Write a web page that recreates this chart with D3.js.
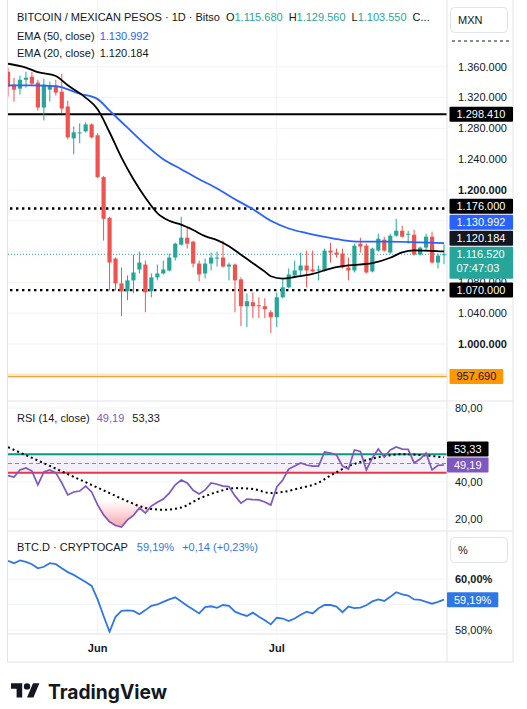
<!DOCTYPE html>
<html>
<head>
<meta charset="utf-8">
<script src="https://cdn.jsdelivr.net/npm/d3@7"></script>
<style>
  body { margin: 0; background: #fff; }
  svg { display: block; font-family: "Liberation Sans", Arial, sans-serif; }
</style>
</head>
<body>
<div id="chart"></div>
<script>
const W = 527
const H = 709

// ---- data (daily, starting 17 May) ----
const firstDay = Date.UTC(2024, 4, 17)

const open = [1353600, 1336800, 1331600, 1343200, 1347100, 1339400, 1307100, 1330300, 1335500, 1327700,
  1308400, 1267100, 1273600, 1276100, 1285200, 1271000, 1216800, 1163900, 1111000, 1078700,
  1068400, 1082600, 1096800, 1103200, 1068400, 1086500, 1091600, 1095500, 1112300, 1129000,
  1138100, 1132900, 1104500, 1091600, 1104500, 1111000, 1112300, 1100600, 1103200, 1083900,
  1049000, 1054200, 1050300, 1049000, 1041300, 1034800, 1060700, 1073600, 1089000, 1095500,
  1101900, 1096800, 1095500, 1095500, 1121300, 1118700, 1117400, 1099400, 1095500, 1130300,
  1127700, 1094200, 1121300, 1135500, 1118700, 1140600, 1147100, 1141900, 1141900, 1116100,
  1125200, 1139400, 1105800, 1115680]
const high = [1358700, 1345800, 1348400, 1353600, 1353600, 1343200, 1344500, 1340700, 1343200, 1351000,
  1316100, 1282600, 1286500, 1287800, 1286500, 1273600, 1218100, 1165200, 1112300, 1099400,
  1089000, 1116100, 1120000, 1108400, 1091600, 1103200, 1108400, 1117400, 1131600, 1165200,
  1151000, 1134200, 1108400, 1111000, 1118700, 1120000, 1134200, 1105800, 1104500, 1086500,
  1065800, 1067100, 1060700, 1059400, 1043900, 1067100, 1083900, 1098100, 1108400, 1118700,
  1121300, 1121300, 1101900, 1123900, 1131600, 1123900, 1123900, 1112300, 1130300, 1138100,
  1130300, 1125200, 1143200, 1139400, 1143200, 1162600, 1153600, 1147100, 1148400, 1126500,
  1143200, 1145800, 1117400, 1129560]
const low = [1321300, 1314800, 1323900, 1332900, 1335500, 1303200, 1290300, 1314800, 1322600, 1299400,
  1265800, 1246500, 1260700, 1274800, 1267100, 1215500, 1134200, 1069700, 1069700, 1036100,
  1056800, 1065800, 1091600, 1041300, 1060700, 1082600, 1090300, 1094200, 1108400, 1127700,
  1123900, 1099400, 1081300, 1085200, 1095500, 1100600, 1099400, 1082600, 1041300, 1023200,
  1021900, 1033600, 1033600, 1033600, 1014200, 1021900, 1059400, 1072300, 1086500, 1089000,
  1073600, 1092900, 1082600, 1094200, 1105800, 1112300, 1098100, 1082600, 1092900, 1118700,
  1091600, 1092900, 1120000, 1120000, 1117400, 1139400, 1138100, 1130300, 1114800, 1114800,
  1121300, 1104500, 1098100, 1103550]
const close = [1334200, 1330300, 1343200, 1345800, 1338100, 1307100, 1336800, 1335500, 1326500, 1305800,
  1268400, 1274800, 1274800, 1285200, 1268400, 1216800, 1162600, 1105800, 1078700, 1068400,
  1082600, 1092900, 1105800, 1067100, 1086500, 1091600, 1096800, 1112300, 1130300, 1138100,
  1130300, 1104500, 1090300, 1104500, 1112300, 1112300, 1100600, 1103200, 1082600, 1049000,
  1055500, 1049000, 1049000, 1045200, 1034800, 1060700, 1073600, 1090300, 1095500, 1101900,
  1095500, 1094200, 1096800, 1121300, 1118700, 1116100, 1099400, 1095500, 1127700, 1126500,
  1092900, 1123900, 1136800, 1121300, 1140600, 1147100, 1139400, 1143200, 1116100, 1125200,
  1139400, 1105800, 1114800, 1116520]

// EMA lines: day index (0 = 17 May) and value
const ema50Day = [0, 4, 8, 12, 15, 17, 20, 23, 26, 29, 32, 35, 38, 41, 44, 47, 50, 53, 56, 59, 64, 69, 73]
const ema50 = [1336000, 1336000, 1335000, 1325000, 1318000, 1303000, 1281000, 1259000, 1240000, 1227000,
  1214000, 1202000, 1188000, 1175000, 1160000, 1150000, 1144000, 1139000, 1135000, 1133000, 1133000, 1132000, 1130992]
const ema20Day = [0, 3, 5, 8, 10, 13, 15, 17, 19, 21, 23, 25, 27, 29, 31, 33, 35, 37, 39, 41, 43, 44, 46, 48,
  51, 54, 57, 61, 64, 66, 68, 71, 73]
const ema20 = [1364000, 1359000, 1353000, 1348000, 1336000, 1320000, 1305000, 1275000, 1242000, 1214000,
  1190000, 1170000, 1160000, 1155000, 1148000, 1140000, 1135000, 1127000, 1116000, 1105000, 1094000,
  1088000, 1085000, 1087000, 1091000, 1098000, 1102000, 1105000, 1112000, 1119000, 1121500, 1121000, 1120184]

// horizontal levels
const levelsSolid = [1298410]
const levelsDotted = [1176000, 1070000]
const levelOrange = 957690
const countdown = '07:47:03'

// RSI
const rsi = [43.5, 42.7, 46.5, 47.6, 45.9, 38.4, 45.4, 46.5, 44.9, 39.5,
  33.0, 34.6, 35.1, 37.8, 34.6, 27.6, 22.2, 18.5, 16.5, 15.7,
  19.5, 22.0, 26.0, 23.2, 27.0, 29.0, 30.8, 34.0, 38.5, 41.1,
  39.5, 35.5, 33.5, 35.7, 39.5, 38.8, 37.8, 37.5, 32.5, 28.6,
  30.8, 30.5, 30.3, 29.2, 27.6, 37.3, 41.1, 47.0, 48.6, 50.3,
  49.2, 48.6, 48.6, 56.2, 55.7, 54.6, 48.6, 47.0, 57.3, 56.5,
  46.5, 53.0, 57.8, 53.5, 57.3, 58.9, 57.8, 57.6, 50.3, 52.4,
  55.7, 46.5, 49.0, 49.19]
const rsiMaDay = [0, 5, 11, 17, 20, 23, 26, 29, 32, 35, 38, 41, 44, 46, 49, 52, 54, 57, 60, 63, 66, 69, 73]
const rsiMa = [58.8, 51.6, 42.8, 34.0, 29.6, 26.0, 25.0, 26.2, 31.0, 34.6, 36.7, 36.2, 34.0, 34.6, 36.8,
  39.6, 43.5, 48.5, 51.8, 54.0, 55.0, 54.6, 53.33]
const rsiBands = [55, 50, 45]
const rsiOversold = 30

// BTC dominance
const dom = [60.71, 60.62, 60.73, 60.67, 60.58, 60.42, 60.48, 60.62, 60.58, 60.42,
  60.27, 60.16, 60.02, 59.88, 59.73, 59.2, 58.55, 57.93, 58.52, 58.75,
  58.77, 58.75, 58.62, 58.78, 58.95, 59.0, 59.1, 59.2, 59.28, 59.12,
  58.95, 58.8, 58.65, 58.9, 58.93, 58.87, 58.98, 58.95, 58.72, 58.62,
  58.55, 58.68, 58.52, 58.38, 58.22, 58.48, 58.45, 58.35, 58.45, 58.6,
  58.72, 58.65, 58.85, 58.98, 58.98, 58.92, 58.7, 58.92, 58.86, 58.88,
  58.97, 59.12, 59.2, 59.14, 59.3, 59.48, 59.4, 59.35, 59.2, 59.18,
  59.1, 59.03, 59.1, 59.19]

// axis ticks
const priceTicks = [1360000, 1320000, 1280000, 1240000, 1200000, 1160000, 1120000, 1080000, 1040000, 1000000, 960000]
const priceBold = [1200000, 1000000]
const rsiTicks = [80, 60, 40, 20]
const domTicks = [60, 59, 58]
const domBold = [60]
const monthTicks = [Date.UTC(2024, 5, 1), Date.UTC(2024, 6, 1)]
const monthLabels = ['Jun', 'Jul']

// ---- layout ----
const plotL = 8, plotR = 447, frameR = 513
const mainTop = 0, mainBot = 401, rsiBot = 531, domBot = 634, timeBot = 662

const UP = '#26a69a'
const DOWN = '#ef5350'
const INK = '#131722'
const GRID = '#f0f3fa'
const LINE = '#e0e3eb'

const loc = d3.formatLocale({ decimal: ',', thousands: '.', grouping: [3], currency: ['', ''] })
const fmtP = loc.format(',.0f')
const fmt2 = loc.format(',.2f')

const day = i => d3.utcDay.offset(new Date(firstDay), i)
const candles = open.map((o, i) => ({ t: day(i), o, h: high[i], l: low[i], c: close[i] }))
const last = candles[candles.length - 1]

const x = d3.scaleUtc().domain([day(1), day(73)]).range([14, 444])
const yP = d3.scaleLinear().domain([1000000, 1360000]).range([344, 66.8])
const yR = d3.scaleLinear().domain([20, 80]).range([519, 408])
const yD = d3.scaleLinear().domain([58, 60]).range([630, 579])

const svg = d3.select('#chart').append('svg').attr('width', W).attr('height', H)
const defs = svg.append('defs')
const clip = (id, y0, y1) => defs.append('clipPath').attr('id', id)
  .append('rect').attr('x', plotL).attr('y', y0).attr('width', plotR - plotL).attr('height', y1 - y0)
clip('cMain', mainTop, mainBot)
clip('cRsi', mainBot, rsiBot)
clip('cDom', rsiBot, domBot)
clip('cHead', 0, 60)

// ---- grid ----
const grid = svg.append('g')
grid.selectAll('.vg').data(monthTicks).enter().append('line')
  .attr('x1', d => x(d)).attr('x2', d => x(d)).attr('y1', 0).attr('y2', domBot)
  .attr('stroke', GRID)
grid.selectAll('.hp').data(priceTicks).enter().append('line')
  .attr('x1', plotL).attr('x2', plotR).attr('y1', d => yP(d)).attr('y2', d => yP(d)).attr('stroke', GRID)
grid.selectAll('.hr').data(rsiTicks).enter().append('line')
  .attr('x1', plotL).attr('x2', plotR).attr('y1', d => yR(d)).attr('y2', d => yR(d)).attr('stroke', GRID)
grid.selectAll('.hd').data(domTicks).enter().append('line')
  .attr('x1', plotL).attr('x2', plotR).attr('y1', d => yD(d)).attr('y2', d => yD(d)).attr('stroke', GRID)

// ---- main pane ----
const main = svg.append('g').attr('clip-path', 'url(#cMain)')

main.append('line').attr('x1', plotL).attr('x2', plotR)
  .attr('y1', yP(levelOrange) - 1.5).attr('y2', yP(levelOrange) - 1.5)
  .attr('stroke', 'rgba(255,200,80,0.35)').attr('stroke-width', 3)
main.append('line').attr('x1', plotL).attr('x2', plotR)
  .attr('y1', yP(levelOrange)).attr('y2', yP(levelOrange))
  .attr('stroke', '#f0a33a').attr('stroke-width', 1.3)

main.selectAll('.ls').data(levelsSolid).enter().append('line')
  .attr('x1', plotL).attr('x2', plotR).attr('y1', d => yP(d)).attr('y2', d => yP(d))
  .attr('stroke', '#000').attr('stroke-width', 2)
main.selectAll('.ld').data(levelsDotted).enter().append('line')
  .attr('x1', plotL + 2).attr('x2', plotR).attr('y1', d => yP(d)).attr('y2', d => yP(d))
  .attr('stroke', '#000').attr('stroke-width', 2.4).attr('stroke-dasharray', '2.4,3.6')

main.append('line').attr('x1', plotL).attr('x2', plotR)
  .attr('y1', yP(last.c)).attr('y2', yP(last.c))
  .attr('stroke', UP).attr('stroke-width', 1).attr('stroke-dasharray', '1,2')

const cg = main.selectAll('.candle').data(candles).enter().append('g')
cg.append('line')
  .attr('x1', d => x(d.t)).attr('x2', d => x(d.t))
  .attr('y1', d => yP(d.h)).attr('y2', d => yP(d.l))
  .attr('stroke', d => d.c >= d.o ? UP : DOWN).attr('stroke-width', 1)
cg.append('rect')
  .attr('x', d => x(d.t) - 2.1).attr('width', 4.2)
  .attr('y', d => yP(Math.max(d.o, d.c)))
  .attr('height', d => Math.max(1, Math.abs(yP(d.o) - yP(d.c))))
  .attr('fill', d => d.c >= d.o ? UP : DOWN)

const lineOf = (days, vals, ys) => d3.line()
  .x((d, i) => x(day(days[i]))).y(d => ys(d)).curve(d3.curveMonotoneX)(vals)
main.append('path').attr('d', lineOf(ema50Day, ema50, yP))
  .attr('fill', 'none').attr('stroke', '#2962ff').attr('stroke-width', 1.8)
main.append('path').attr('d', lineOf(ema20Day, ema20, yP))
  .attr('fill', 'none').attr('stroke', '#000').attr('stroke-width', 1.8)

// ---- RSI pane ----
const rp = svg.append('g').attr('clip-path', 'url(#cRsi)')
rp.append('rect').attr('x', plotL).attr('width', plotR - plotL)
  .attr('y', yR(rsiBands[0])).attr('height', yR(rsiBands[2]) - yR(rsiBands[0]))
  .attr('fill', 'rgba(126,87,194,0.09)')
rp.append('line').attr('x1', plotL).attr('x2', plotR).attr('y1', yR(rsiBands[1])).attr('y2', yR(rsiBands[1]))
  .attr('stroke', '#8a8d96').attr('stroke-dasharray', '4,3')
rp.append('line').attr('x1', plotL).attr('x2', plotR).attr('y1', yR(rsiBands[0])).attr('y2', yR(rsiBands[0]))
  .attr('stroke', '#089981').attr('stroke-width', 2)
rp.append('line').attr('x1', plotL).attr('x2', plotR).attr('y1', yR(rsiBands[2])).attr('y2', yR(rsiBands[2]))
  .attr('stroke', '#e8364a').attr('stroke-width', 2)

const osGrad = defs.append('linearGradient').attr('id', 'osGrad')
  .attr('gradientUnits', 'userSpaceOnUse').attr('x1', 0).attr('x2', 0)
  .attr('y1', yR(rsiOversold)).attr('y2', yR(15))
osGrad.append('stop').attr('offset', 0).attr('stop-color', 'rgba(242,54,69,0)')
osGrad.append('stop').attr('offset', 1).attr('stop-color', 'rgba(242,54,69,0.45)')
rp.append('path')
  .attr('d', d3.area().x((d, i) => x(day(i))).y0(yR(rsiOversold))
    .y1(d => yR(Math.min(d, rsiOversold)))(rsi))
  .attr('fill', 'url(#osGrad)')

rp.append('path').attr('d', lineOf(rsiMaDay, rsiMa, yR))
  .attr('fill', 'none').attr('stroke', '#000').attr('stroke-width', 2).attr('stroke-dasharray', '2,3')
rp.append('path').attr('d', d3.line().x((d, i) => x(day(i))).y(d => yR(d))(rsi))
  .attr('fill', 'none').attr('stroke', '#7e57c2').attr('stroke-width', 1.7)

// ---- dominance pane ----
const dp = svg.append('g').attr('clip-path', 'url(#cDom)')
dp.append('path').attr('d', d3.line().x((d, i) => x(day(i))).y(d => yD(d))(dom))
  .attr('fill', 'none').attr('stroke', '#3077e6').attr('stroke-width', 1.8)

// ---- separators / frame ----
const sep = svg.append('g').attr('stroke', LINE)
sep.append('line').attr('x1', plotL).attr('x2', frameR).attr('y1', mainBot).attr('y2', mainBot)
sep.append('line').attr('x1', plotL).attr('x2', frameR).attr('y1', rsiBot).attr('y2', rsiBot)
sep.append('line').attr('x1', plotL).attr('x2', plotR).attr('y1', domBot).attr('y2', domBot)
sep.append('line').attr('x1', plotR).attr('x2', plotR).attr('y1', 0).attr('y2', timeBot)
svg.append('rect').attr('x', plotL - 0.5).attr('y', -1).attr('width', frameR - plotL + 0.5).attr('height', timeBot + 1)
  .attr('fill', 'none').attr('stroke', LINE)

// ---- tags on the price scales (stacked away from each other) ----
function stackTags (tags) {
  tags.forEach(t => { t.top = t.y - t.off; t.bot = t.top + t.h })
  const a = tags.find(t => t.anchor)
  const above = tags.filter(t => !t.anchor && t.y <= a.y).sort((p, q) => q.y - p.y)
  let lim = a.top - 1
  above.forEach(t => { if (t.bot > lim) { t.top = lim - t.h; t.bot = lim } lim = t.top - 1 })
  const below = tags.filter(t => !t.anchor && t.y > a.y).sort((p, q) => p.y - q.y)
  lim = a.bot + 1
  below.forEach(t => { if (t.top < lim) { t.top = lim; t.bot = lim + t.h } lim = t.bot + 1 })
}
function drawTags (tags, x0, pad) {
  tags.forEach(t => {
    const g = svg.append('g')
    const r = g.append('rect').attr('y', t.top).attr('height', t.h).attr('fill', t.bg).attr('rx', 1)
    let w = 0
    t.lines.forEach((s, k) => {
      const tx = g.append('text').attr('x', x0 + pad).attr('y', t.top + 7.5 + k * 14).attr('dy', '0.35em')
        .attr('font-size', 11).attr('fill', t.fg || '#fff').text(s)
      w = Math.max(w, tx.node().getComputedTextLength())
    })
    r.attr('x', x0).attr('width', t.w || w + pad * 2)
  })
}
// a tick label whose centre sits under a tag is not shown
const hidden = (tags, y) => tags.some(t => y >= t.top + 1 && y <= t.bot - 1)

const priceTags = [
  { y: yP(last.c), off: 7.5, h: 32, bg: UP, lines: [fmtP(last.c), countdown], anchor: true, w: 63.5 },
  { y: yP(ema20[ema20.length - 1]), off: 7.5, h: 15, bg: INK, lines: [fmtP(ema20[ema20.length - 1])], w: 63.5 },
  { y: yP(ema50[ema50.length - 1]), off: 7.5, h: 15, bg: '#2962ff', lines: [fmtP(ema50[ema50.length - 1])], w: 63.5 },
  ...levelsSolid.concat(levelsDotted).map(v => ({ y: yP(v), off: 7.5, h: 15, bg: '#000', lines: [fmtP(v)], w: 63.5 })),
  { y: yP(levelOrange), off: 7.5, h: 15, bg: '#ff9800', fg: INK, lines: [fmtP(levelOrange)] }
]
stackTags(priceTags)

const rsiTags = [
  { y: yR(rsi[rsi.length - 1]), off: 7.5, h: 15, bg: '#7e57c2', lines: [fmt2(rsi[rsi.length - 1])], anchor: true },
  { y: yR(rsiMa[rsiMa.length - 1]), off: 7.5, h: 15, bg: '#000', lines: [fmt2(rsiMa[rsiMa.length - 1])] }
]
stackTags(rsiTags)

const domTags = [{ y: yD(dom[dom.length - 1]), off: 7.5, h: 15, bg: '#3077e6', lines: [fmt2(dom[dom.length - 1]) + '%'], anchor: true }]
stackTags(domTags)

// ---- axis labels ----
const ax = svg.append('g').attr('font-size', 11).attr('fill', INK)
ax.selectAll('.pt').data(priceTicks.filter(d => !hidden(priceTags, yP(d)))).enter().append('text')
  .attr('x', 458).attr('y', d => yP(d)).attr('dy', '0.35em')
  .attr('font-weight', d => priceBold.includes(d) ? 'bold' : null)
  .text(d => fmtP(d))
ax.selectAll('.rt').data(rsiTicks.filter(d => !hidden(rsiTags, yR(d)))).enter().append('text')
  .attr('x', 455).attr('y', d => yR(d)).attr('dy', '0.35em').text(d => fmt2(d))
ax.selectAll('.dt').data(domTicks.filter(d => !hidden(domTags, yD(d)))).enter().append('text')
  .attr('x', 455).attr('y', d => yD(d)).attr('dy', '0.35em')
  .attr('font-weight', d => domBold.includes(d) ? 'bold' : null)
  .text(d => fmt2(d) + '%')
ax.selectAll('.mt').data(monthTicks).enter().append('text')
  .attr('x', d => x(d)).attr('y', 652).attr('text-anchor', 'middle').attr('font-weight', 'bold')
  .text((d, i) => monthLabels[i])

// dashes under the currency button
ax.append('line').attr('x1', 452).attr('x2', 510).attr('y1', 41).attr('y2', 41)
  .attr('stroke', INK).attr('stroke-dasharray', '3,3')

drawTags(priceTags, 449.5, 7)
drawTags(rsiTags, 447, 7)
drawTags(domTags, 447, 7)

// buttons
const btn = (y0, label) => {
  svg.append('rect').attr('x', 450.5).attr('y', y0).attr('width', 57).attr('height', 25).attr('rx', 4)
    .attr('fill', '#fff').attr('stroke', LINE)
  svg.append('text').attr('x', 458).attr('y', y0 + 12.5).attr('dy', '0.35em')
    .attr('font-size', 11).attr('fill', INK).text(label)
}
btn(7.5, 'MXN')
btn(537.5, '%')

// ---- legends ----
const hd = svg.append('g').attr('clip-path', 'url(#cHead)').attr('font-size', 11).attr('fill', INK)
const t1 = hd.append('text').attr('x', 17).attr('y', 21)
t1.append('tspan').text('BITCOIN / MEXICAN PESOS · 1D · Bitso')
;[['O', last.o], ['H', last.h], ['L', last.l]].forEach(([k, v]) => {
  t1.append('tspan').attr('dx', 6).text(k)
  t1.append('tspan').attr('fill', UP).text(fmtP(v))
})
t1.append('tspan').attr('dx', 6).text('C...')

const emaLeg = [['EMA (50, close)', ema50[ema50.length - 1], '#2962ff'], ['EMA (20, close)', ema20[ema20.length - 1], INK]]
emaLeg.forEach(([name, v, col], i) => {
  const t = hd.append('text').attr('x', 17).attr('y', 39.5 + i * 17.5)
  t.append('tspan').text(name)
  t.append('tspan').attr('dx', 5).attr('fill', col).text(fmtP(v))
})

const rl = svg.append('text').attr('x', 17).attr('y', 422).attr('font-size', 11).attr('fill', INK)
rl.append('tspan').text('RSI (14, close)')
rl.append('tspan').attr('dx', 7).attr('fill', '#7e57c2').text(fmt2(rsi[rsi.length - 1]))
rl.append('tspan').attr('dx', 8).text(fmt2(rsiMa[rsiMa.length - 1]))

const dl = svg.append('text').attr('x', 17).attr('y', 551).attr('font-size', 11).attr('fill', INK)
dl.append('tspan').text('BTC.D · CRYPTOCAP')
dl.append('tspan').attr('dx', 9).attr('fill', '#3077e6').text(fmt2(dom[dom.length - 1]) + '%')
dl.append('tspan').attr('dx', 8).attr('fill', '#3077e6').text('+0,14 (+0,23%)')

// ---- TradingView logo ----
const logo = svg.append('g').attr('transform', 'translate(11,680) scale(0.8)').attr('fill', INK)
logo.append('path').attr('d', 'M14 22H7V11H0V4h14v18zM28 22h-8l7.5-18h8L28 22z')
logo.append('circle').attr('cx', 20).attr('cy', 8).attr('r', 4)
svg.append('text').attr('x', 48).attr('y', 699).attr('font-family', 'Inter, "Open Sans", sans-serif')
  .attr('font-size', 20).attr('font-weight', 700).attr('fill', INK)
  .attr('textLength', 119).attr('lengthAdjust', 'spacingAndGlyphs').text('TradingView')
</script>
</body>
</html>
